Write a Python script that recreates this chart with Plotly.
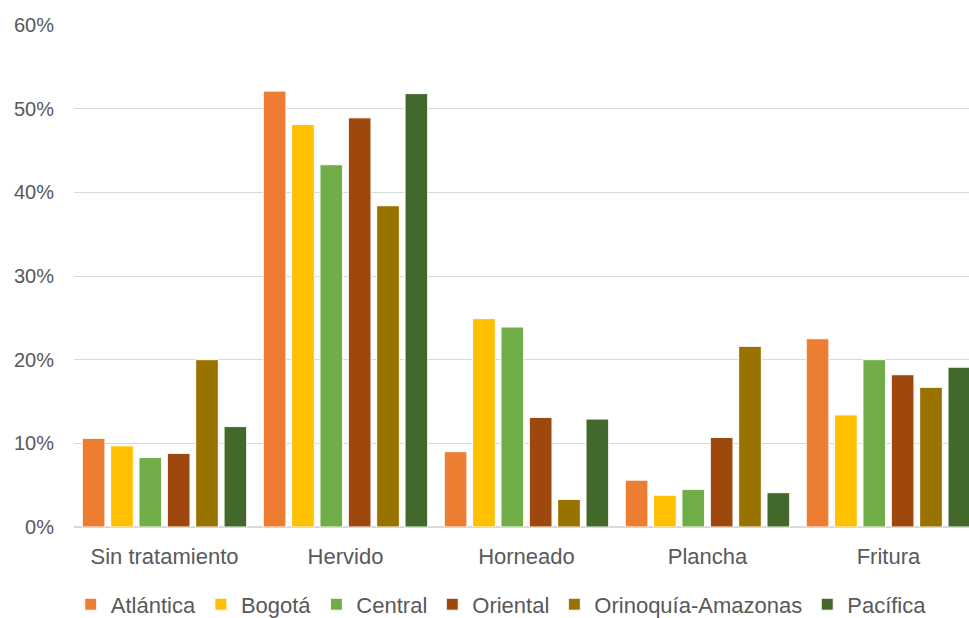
import plotly.graph_objects as go

categories = ["Sin tratamiento", "Hervido", "Horneado", "Plancha", "Fritura"]
series_names = ["Atlántica", "Bogotá", "Central", "Oriental", "Orinoquía-Amazonas", "Pacífica"]

atlantica = [0.106, 0.521, 0.090, 0.056, 0.225]
bogota = [0.097, 0.481, 0.249, 0.038, 0.134]
central = [0.083, 0.433, 0.239, 0.045, 0.200]
oriental = [0.088, 0.489, 0.131, 0.107, 0.182]
orinoquia = [0.200, 0.384, 0.033, 0.216, 0.167]
pacifica = [0.120, 0.518, 0.129, 0.041, 0.191]

series_values = [atlantica, bogota, central, oriental, orinoquia, pacifica]
colors = ["#ED7D31", "#FFC000", "#70AD47", "#9E480E", "#997300", "#43682B"]

y_ticks = [0, 0.1, 0.2, 0.3, 0.4, 0.5, 0.6]
y_tick_labels = ["0%", "10%", "20%", "30%", "40%", "50%", "60%"]

FONT = "Liberation Sans"
TEXT = "#595959"
GRID = "#D9D9D9"

fig = go.Figure()
for name, vals, col in zip(series_names, series_values, colors):
    fig.add_trace(go.Bar(
        x=categories, y=vals, name=name,
        marker=dict(color=col, line=dict(color="white", width=1)),
    ))

fig.update_layout(
    width=969, height=618,
    margin=dict(l=74, r=0, t=25, b=91),
    paper_bgcolor="white", plot_bgcolor="white",
    barmode="group", bargap=0.06, bargroupgap=0.2,
    font=dict(family=FONT, color=TEXT, size=22),
    showlegend=True,
    legend=dict(
        orientation="h", xref="container", yref="container",
        x=0.073, xanchor="left", y=0.022, yanchor="middle",
        font=dict(family=FONT, size=22, color=TEXT),
        bgcolor="rgba(0,0,0,0)",
    ),
    xaxis=dict(
        type="category", range=[-0.5, 4.445],
        showgrid=False, showline=False, zeroline=False,
        tickfont=dict(family=FONT, size=22, color=TEXT),
        ticklabelstandoff=14,
    ),
    yaxis=dict(
        range=[0, 0.6], tickvals=y_ticks, ticktext=y_tick_labels,
        showgrid=True, gridcolor=GRID, gridwidth=1.3,
        zeroline=True, zerolinecolor=GRID, zerolinewidth=1.5,
        showline=False,
        tickfont=dict(family=FONT, size=20, color=TEXT),
        ticklabelstandoff=19,
    ),
)

fig.write_html("out.html")
